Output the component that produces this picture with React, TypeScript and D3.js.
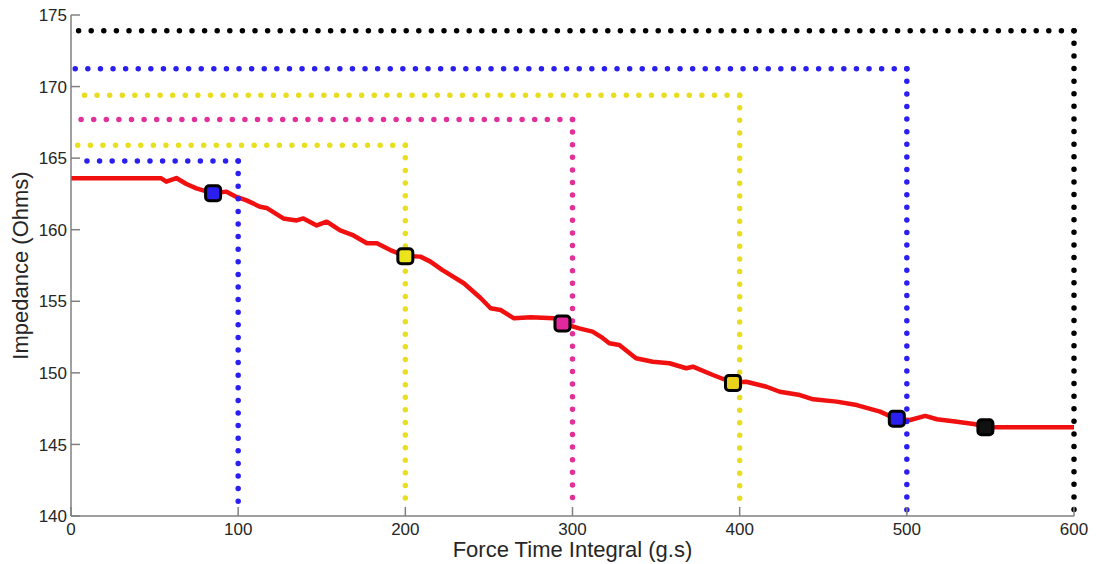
import React from "react";
import * as d3 from "d3";

// Impedance curve (Force Time Integral vs Impedance)
const curveX = [0, 54, 57, 63, 69, 75, 85, 93, 99, 105, 113, 117, 127, 135, 139, 147, 153, 161, 169, 177, 183, 191, 200, 209, 215, 222, 235, 245, 251, 257, 265, 275, 289, 294, 304, 312, 318, 322, 328, 338, 348, 358, 368, 372, 384, 396, 404, 416, 424, 436, 444, 458, 470, 484, 494, 502, 511, 518, 530, 540, 547, 600];
const curveY = [163.59, 163.59, 163.36, 163.61, 163.19, 162.89, 162.54, 162.66, 162.29, 162.05, 161.61, 161.52, 160.79, 160.65, 160.79, 160.3, 160.56, 159.95, 159.6, 159.05, 159.05, 158.58, 158.16, 158.12, 157.77, 157.19, 156.26, 155.23, 154.51, 154.39, 153.81, 153.88, 153.81, 153.46, 153.11, 152.88, 152.44, 152.07, 151.95, 151.02, 150.78, 150.67, 150.32, 150.43, 149.85, 149.31, 149.38, 149.03, 148.68, 148.45, 148.15, 147.99, 147.75, 147.29, 146.76, 146.71, 146.99, 146.76, 146.59, 146.43, 146.2, 146.2];

// Threshold markers
const markerX = [85, 200, 294, 396, 494, 547];
const markerY = [162.55, 158.15, 153.45, 149.3, 146.8, 146.2];
const markerColors = ["#2b1ff0", "#ebe31c", "#e2289c", "#ebd21c", "#2b1ff0", "#111111"];

// Dotted guide lines: level, end x, start x
const guideLevel = [173.9, 171.25, 169.4, 167.7, 165.9, 164.8];
const guideEndX = [600, 500, 400, 300, 200, 100];
const guideStartX = [3.4, 1.6, 6.6, 5.4, 2.4, 6.6];
const guideColors = ["#000000", "#2b1ff0", "#e8dd1e", "#e0309a", "#e8e01e", "#2b1ff0"];

const xTicks = [0, 100, 200, 300, 400, 500, 600];
const yTicks = [140, 145, 150, 155, 160, 165, 170, 175];

const W = 1097;
const H = 564;
const FONT = "'Liberation Sans', Arial, sans-serif";

export default function App() {
  const x = d3.scaleLinear().domain([0, 600]).range([71, 1074]);
  const y = d3.scaleLinear().domain([140, 175]).range([516, 15]);

  const pts: [number, number][] = curveX.map((v, i) => [v, curveY[i]]);
  const line = d3
    .line<[number, number]>()
    .x((d) => x(d[0]))
    .y((d) => y(d[1]))
    .curve(d3.curveLinear);

  const axisColor = "#808080";
  const textColor = "#262626";
  const ms = 15;

  return (
    <svg
      width={W}
      height={H}
      style={{ position: "absolute", left: 0, top: 0, background: "#fff" }}
      fontFamily={FONT}
    >
      <rect x={0} y={0} width={W} height={H} fill="#fff" />

      {/* red curve */}
      <path d={line(pts) || ""} fill="none" stroke="#f01010" strokeWidth={4.5} strokeLinejoin="round" />

      {/* dotted guides */}
      {guideLevel.map((lv, i) => (
        <g key={i} stroke={guideColors[i]} strokeWidth={5.5} strokeLinecap="round" strokeDasharray="0 12.6" fill="none">
          <path d={`M${x(guideEndX[i])},${y(lv)}H${x(guideStartX[i])}`} />
          <path d={`M${x(guideEndX[i])},${y(lv)}V${y(140) - 6}`} />
        </g>
      ))}

      {/* markers */}
      {markerX.map((mx, i) => (
        <rect
          key={i}
          x={x(mx) - ms / 2}
          y={y(markerY[i]) - ms / 2}
          width={ms}
          height={ms}
          rx={3.5}
          fill={markerColors[i]}
          stroke="#000"
          strokeWidth={3}
        />
      ))}

      {/* axes */}
      <line x1={x(0)} x2={x(0)} y1={y(175)} y2={y(140)} stroke={axisColor} strokeWidth={1.5} />
      <line x1={x(0)} x2={x(600)} y1={y(140)} y2={y(140)} stroke={axisColor} strokeWidth={1.5} />
      {yTicks.map((t) => (
        <g key={"y" + t}>
          <line x1={x(0)} x2={x(0) + 9} y1={y(t)} y2={y(t)} stroke={axisColor} strokeWidth={1.5} />
          <text x={x(0) - 4} y={y(t)} dy="0.36em" textAnchor="end" fontSize={17} fill={textColor}>
            {t}
          </text>
        </g>
      ))}
      {xTicks.map((t) => (
        <g key={"x" + t}>
          <line x1={x(t)} x2={x(t)} y1={y(140)} y2={y(140) - 9} stroke={axisColor} strokeWidth={1.5} />
          <text x={x(t)} y={y(140) + 19} textAnchor="middle" fontSize={17} fill={textColor}>
            {t}
          </text>
        </g>
      ))}

      <text x={x(300)} y={557} textAnchor="middle" fontSize={22} fill={textColor}>
        Force Time Integral (g.s)
      </text>
      <text
        transform={`translate(28,${(y(140) + y(175)) / 2}) rotate(-90)`}
        textAnchor="middle"
        fontSize={22}
        fill={textColor}
      >
        Impedance (Ohms)
      </text>
    </svg>
  );
}
